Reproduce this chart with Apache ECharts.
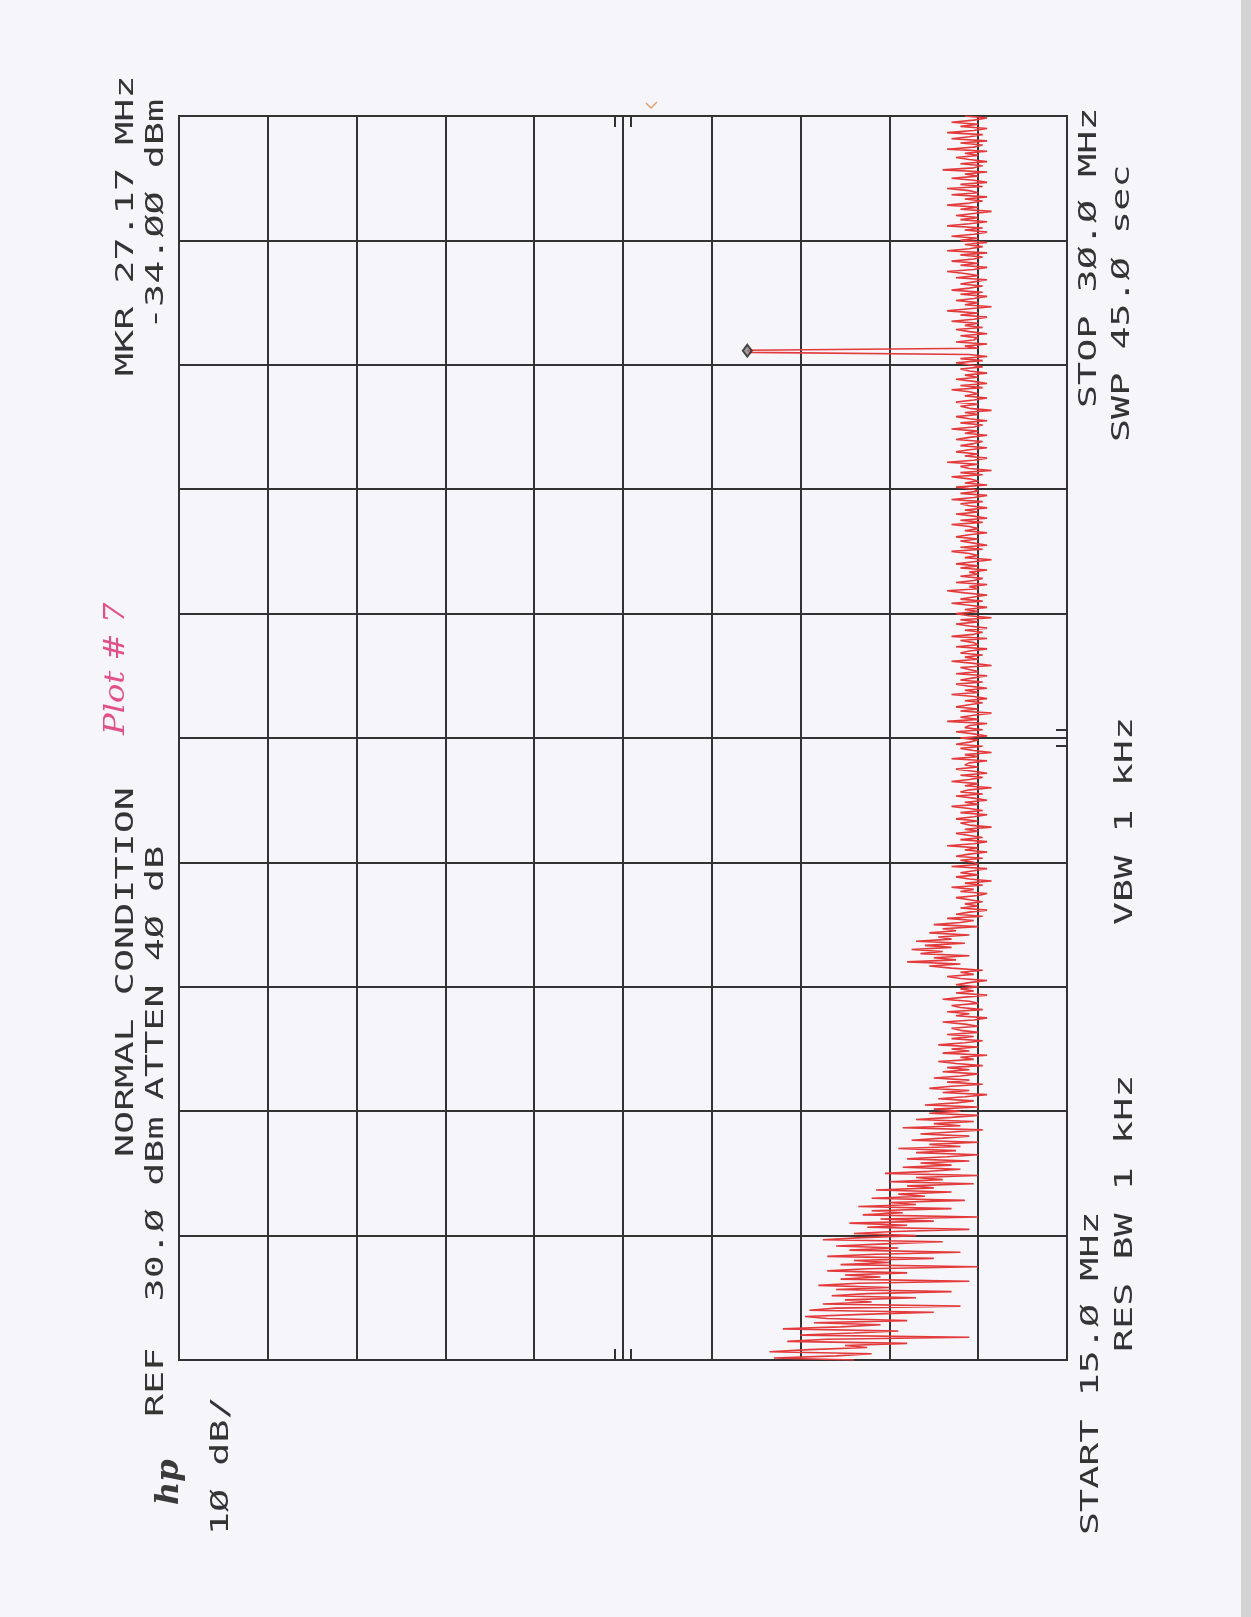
<!DOCTYPE html>
<html>
<head>
<meta charset="utf-8">
<script src="https://cdn.jsdelivr.net/npm/echarts@6/dist/echarts.min.js"></script>
<style>
html,body{margin:0;padding:0;background:#f5f5fa;}
#chart{width:1251px;height:1617px;}
</style>
</head>
<body>
<div id="chart"></div>
<script>
// Sweep settings (frequency axis runs bottom -> top, amplitude axis REF at left)
const startMHz = 15.0;
const stopMHz = 30.0;
const refDbm = 30;
const dbPerDiv = 10;
const bottomDbm = -70;
const freqDivMHz = 1.5;

// Marker
const markerMHz = 27.17;
const markerDbm = -34.00;

// Trace amplitudes (dBm), 601 sweep points from 15.000 to 30.000 MHz (0.025 MHz apart)
const traceDbm = [
  // 15.000 - 15.475
  -46, -37, -44, -48, -36.5, -41, -47.5, -45, -52, -38.5, -43, -59, -40, -46, -51, -38, -44.5, -49, -41.5, -52,
  // 15.500 - 15.975
  -43, -40.5, -47, -55, -41, -44, -58, -42.5, -48, -45, -53, -43.5, -47.5, -57, -44, -50, -42, -46.5, -59, -44.5,
  // 16.000 - 16.475
  -49, -45, -52, -43, -47.5, -60, -44.5, -50, -46, -55, -43, -48.5, -58, -45.5, -51, -44, -49.5, -56, -42.5, -47,
  // 16.500 - 16.975
  -53, -46, -50.5, -59, -47.5, -52, -45.5, -55, -49, -60, -47, -51.5, -48, -57, -46.5, -53, -50, -58.5, -48, -54,
  // 17.000 - 17.475
  -51, -57, -48.5, -55, -52, -59.5, -50, -56, -53, -60, -49.5, -54.5, -58, -51.5, -57, -53.5, -59, -52, -56.5, -60,
  // 17.500 - 17.975
  -53, -57.5, -51, -58, -54.5, -60, -52.5, -56, -59, -53.5, -57, -60.5, -51.5, -58, -55, -59.5, -53, -57, -60, -54.5,
  // 18.000 - 18.475
  -58, -55, -60, -54, -57.5, -59.5, -55.5, -58.5, -61, -56, -59, -54.5, -57, -60.5, -56.5, -59, -55, -58, -60, -56,
  // 18.500 - 18.975
  -59, -56.5, -60.5, -57.5, -55.5, -59.5, -58, -61, -56, -59, -57, -60, -55.5, -58.5, -60.5, -57, -59.5, -56.5, -60, -58,
  // 19.000 - 19.475
  -57, -60, -58.5, -56, -59.5, -61, -57.5, -59, -56.5, -60.5, -58, -57, -60, -59, -56, -58.5, -61, -57.5, -59.5, -58,
  // 19.500 - 19.975
  -60, -57.5, -59, -61, -58, -56.5, -59.5, -58, -60.5, -57, -54.5, -58, -52, -57.5, -55, -59, -53.5, -56, -52.5, -57,
  // 20.000 - 20.475
  -54, -58.5, -53, -57, -55.5, -59, -54.5, -57.5, -56, -60, -55, -58, -59.5, -56.5, -60.5, -57.5, -59, -61, -58, -60,
  // 20.500 - 20.975
  -58.5, -60.5, -59, -57.5, -60, -61, -58, -59.5, -57, -60.5, -58.5, -61.5, -59, -57.5, -60, -58, -59.5, -61, -57, -60,
  // 21.000 - 21.475
  -59.5, -58, -60.5, -57.5, -59, -61, -58.5, -60, -56.5, -59.5, -61, -58, -60.5, -59, -57.5, -60, -58.5, -61.5, -59, -58,
  // 21.500 - 21.975
  -60, -57.5, -59.5, -61, -58, -60.5, -59, -57, -60, -58.5, -61, -59.5, -57.5, -60.5, -58, -59, -61.5, -58.5, -60, -57,
  // 22.000 - 22.475
  -59, -60.5, -58, -61, -59.5, -57.5, -60, -58.5, -59, -61, -57, -60, -58.5, -61.5, -59.5, -58, -60.5, -57.5, -59, -60,
  // 22.500 - 22.975
  -58, -61, -59.5, -57.5, -60.5, -58.5, -59, -61, -56.5, -60, -58, -59.5, -61.5, -58, -60, -57.5, -59, -60.5, -58.5, -61,
  // 23.000 - 23.475
  -59.5, -57, -60, -58.5, -61, -59, -57.5, -60.5, -58, -59.5, -61, -57.5, -60, -59, -58, -61.5, -59.5, -57, -60, -58.5,
  // 23.500 - 23.975
  -60.5, -58, -59, -61, -57.5, -60, -59.5, -58, -61, -57, -59.5, -60.5, -58.5, -61, -59, -57.5, -60, -58, -61.5, -59,
  // 24.000 - 24.475
  -57.5, -60, -58.5, -61, -59, -57, -60.5, -58, -59.5, -61, -58.5, -56.5, -60, -59, -61, -57.5, -59.5, -60.5, -58, -60,
  // 24.500 - 24.975
  -59, -61, -58, -60, -57.5, -59.5, -61.5, -58.5, -60, -59, -57, -60.5, -58, -61, -59.5, -58, -60, -57.5, -59, -61,
  // 25.000 - 25.475
  -58.5, -60, -59, -57, -60.5, -58, -61, -59.5, -57.5, -60, -58.5, -61, -59, -58, -60.5, -57, -59.5, -61, -58, -60,
  // 25.500 - 25.975
  -59.5, -57.5, -61, -58.5, -60, -59, -57, -60.5, -58, -61.5, -59, -58, -60, -56.5, -59.5, -61, -58.5, -60, -57.5, -59,
  // 26.000 - 26.475
  -61, -58, -59.5, -60.5, -57.5, -59, -61, -58.5, -60, -57, -59.5, -60.5, -58, -61, -59, -57.5, -60, -58.5, -61.5, -59,
  // 26.500 - 26.975
  -58, -60, -57.5, -59.5, -61, -58.5, -60, -59, -57, -60.5, -58, -61, -59.5, -57.5, -60, -58.5, -61, -59, -58, -60.5,
  // 27.000 - 27.475 (carrier at the marker)
  -59, -57.5, -60.5, -58, -61, -59, -34.3, -34, -60, -58.5, -61, -57.5, -59.5, -60, -58, -61, -59, -57.5, -60.5, -58.5,
  // 27.500 - 27.975
  -60, -57, -59.5, -61, -58, -60, -56.5, -59, -61.5, -58.5, -60, -57.5, -59.5, -61, -58, -60.5, -57, -59, -60.5, -58,
  // 28.000 - 28.475
  -59.5, -61, -57.5, -60, -58.5, -56.5, -59.5, -61, -58, -60, -57, -59.5, -60.5, -58, -61, -56.5, -59, -60.5, -58.5, -61,
  // 28.500 - 28.975
  -58, -60, -57, -59.5, -61, -58.5, -60.5, -56.5, -59, -61, -58, -60, -57.5, -59.5, -61.5, -58, -60, -56.5, -59, -60.5,
  // 29.000 - 29.475
  -58.5, -61, -57, -60, -59, -56.5, -60.5, -58, -61, -59.5, -57, -60, -58.5, -61, -56, -59.5, -60.5, -58, -61, -59,
  // 29.500 - 30.000
  -57.5, -60, -58.5, -61, -56.5, -59.5, -60.5, -58, -61, -57, -59, -60.5, -56.5, -59.5, -61, -58, -60, -57, -59.5, -61,
  -58.5
];

// Annotation texts (instrument printout)
const txtTopLine = ['NORMAL CONDITION', 'MKR 27.17 MHz'];
const txtRefLine = ['REF  30.Ø dBm', 'ATTEN 4Ø dB', '-34.ØØ dBm'];
const txtScale = '1Ø dB/';
const txtBottom1 = ['START 15.Ø MHz', 'STOP 3Ø.Ø MHz'];
const txtBottom2 = ['RES BW 1 kHz', 'VBW 1 kHz', 'SWP 45.Ø sec'];
const txtNote = 'Plot # 7';
const txtLogo = 'hp';

const traceData = traceDbm.map((v, i) => [v, startMHz + i * (stopMHz - startMHz) / (traceDbm.length - 1)]);

const chart = echarts.init(document.getElementById('chart'), null, {renderer: 'canvas'});

const ink = '#343434';
const monoFont = '24px "DejaVu Sans Mono"';
function rtext(id, str, x, y, opts) {
  opts = opts || {};
  return {
    type: 'text', id: id, x: x, y: y, rotation: Math.PI / 2,
    scaleX: opts.sx || 1.6, scaleY: 1, z: 10,
    style: {
      text: str, font: opts.font || monoFont, fill: opts.fill || ink,
      align: 'left', verticalAlign: 'middle'
    }
  };
}

const textEls = [
  {type: 'rect', id: 'edge', shape: {x: 1241, y: 0, width: 10, height: 1617}, style: {fill: '#d3d3d6'}, z: 1},
  {type: 'polyline', id: 'pen', shape: {points: [[646, 103], [651, 108], [657, 102]]}, style: {stroke: '#e0a070', lineWidth: 1.5, fill: null}, z: 1},
  rtext('t1', txtTopLine[0], 127, 1157),
  rtext('t2', txtTopLine[1], 127, 376),
  rtext('t3', txtRefLine[0], 157, 1417),
  rtext('t4', txtRefLine[1], 157, 1100),
  rtext('t5', txtRefLine[2], 157, 330),
  rtext('t6', txtScale, 222, 1535),
  rtext('t7', txtBottom1[0], 1092, 1535),
  rtext('t8', txtBottom1[1], 1090, 408),
  rtext('t9', txtBottom2[0], 1126, 1352),
  rtext('t10', txtBottom2[1], 1126, 925),
  rtext('t11', txtBottom2[2], 1123, 442),
  rtext('t12', txtNote, 117, 735, {font: 'italic 28px "DejaVu Serif"', fill: '#e2508a', sx: 1.15}),
  rtext('t13', txtLogo, 170, 1505, {font: 'italic bold 32px "DejaVu Serif"', fill: '#3a3a3a', sx: 1.0})
];

const option = {
  animation: false,
  backgroundColor: '#f5f5fa',
  grid: {
    left: 179, top: 116, width: 888, height: 1244,
    show: true, borderColor: '#333', borderWidth: 2, backgroundColor: 'transparent'
  },
  xAxis: {
    type: 'value', min: bottomDbm, max: refDbm, interval: dbPerDiv, inverse: true,
    axisLine: {show: false}, axisTick: {show: false}, axisLabel: {show: false},
    splitLine: {show: true, lineStyle: {color: '#333', width: 2}}
  },
  yAxis: {
    type: 'value', min: startMHz, max: stopMHz, interval: freqDivMHz,
    axisLine: {show: false}, axisTick: {show: false}, axisLabel: {show: false},
    splitLine: {show: true, lineStyle: {color: '#333', width: 2}}
  },
  series: [
    {
      type: 'line', data: traceData, symbol: 'none', silent: true, z: 3,
      lineStyle: {color: '#e33a3c', width: 1.6}
    },
    {
      type: 'scatter', data: [[markerDbm, markerMHz]], symbol: 'diamond', symbolSize: [9, 12],
      silent: true, z: 5,
      itemStyle: {color: '#8a8a8a', borderColor: '#222', borderWidth: 2}
    }
  ],
  graphic: textEls
};
chart.setOption(option);

// graticule centre marks (double ticks) at top, bottom and right edge
const midDbm = (refDbm + bottomDbm) / 2;
const midMHz = (startMHz + stopMHz) / 2;
const pTop = chart.convertToPixel({gridIndex: 0}, [midDbm, stopMHz]);
const pBot = chart.convertToPixel({gridIndex: 0}, [midDbm, startMHz]);
const pRight = chart.convertToPixel({gridIndex: 0}, [bottomDbm, midMHz]);
const tickStyle = {stroke: '#333', lineWidth: 2};
const tickEls = [];
[-8, 8].forEach((d, k) => {
  tickEls.push({type: 'line', id: 'tt' + k, z: 2, shape: {x1: pTop[0] + d, y1: pTop[1], x2: pTop[0] + d, y2: pTop[1] + 11}, style: tickStyle});
  tickEls.push({type: 'line', id: 'tb' + k, z: 2, shape: {x1: pBot[0] + d, y1: pBot[1], x2: pBot[0] + d, y2: pBot[1] - 11}, style: tickStyle});
  tickEls.push({type: 'line', id: 'tr' + k, z: 2, shape: {x1: pRight[0], y1: pRight[1] + d, x2: pRight[0] - 11, y2: pRight[1] + d}, style: tickStyle});
});
chart.setOption({graphic: textEls.concat(tickEls)});
</script>
</body>
</html>
